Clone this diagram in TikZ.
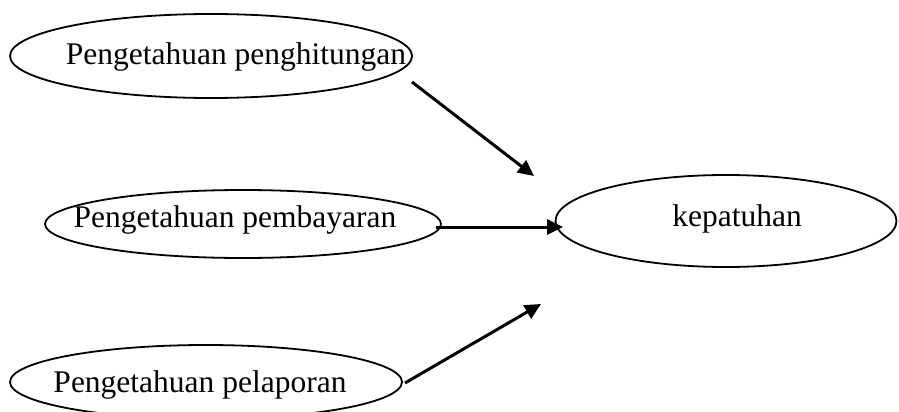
\documentclass[tikz,border=0pt]{standalone}
\usepackage{fontspec}
\setmainfont{Liberation Serif}
\usetikzlibrary{shapes.geometric,arrows.meta}
\begin{document}
\begin{tikzpicture}[x=1pt,y=-1pt,
  ell/.style={draw,ellipse,line width=1.8pt,inner sep=0pt,outer sep=0pt},
  txt/.style={anchor=base,inner sep=0pt,font=\fontsize{31.5}{36}\selectfont},
  conn/.style={line width=3pt,-{Triangle[length=16pt,width=15pt]}}]
\useasboundingbox (0,0) rectangle (899,412);
\begin{scope}
\clip (0,0) rectangle (899,412);
\node[ell,minimum width=402pt,minimum height=84pt] (e1) at (211,56) {};
\node[ell,minimum width=396pt,minimum height=68pt] (e2) at (243,224) {};
\node[ell,minimum width=392pt,minimum height=74pt] (e3) at (206,382) {};
\node[ell,minimum width=341pt,minimum height=92pt] (e4) at (726,221) {};
\end{scope}
\node[txt] (t1) at (236,64) {Pengetahuan penghitungan};
\node[txt] (t2) at (235,227) {Pengetahuan pembayaran};
\node[txt] (t3) at (200,392) {Pengetahuan pelaporan};
\node[txt] (t4) at (737,226) {kepatuhan};
\coordinate (s1) at (412,82);
\coordinate (d1) at (534,176);
\coordinate (s2) at (436,227);
\coordinate (d2) at (563,227);
\coordinate (s3) at (405,383);
\coordinate (d3) at (541,304);
\draw[conn] (s1) -- (d1);
\draw[conn] (s2) -- (d2);
\draw[conn] (s3) -- (d3);
\end{tikzpicture}
\end{document}
